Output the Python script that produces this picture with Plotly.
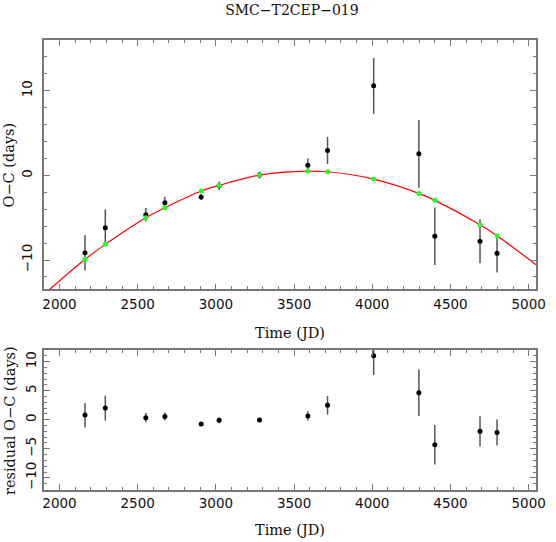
import plotly.graph_objects as go

# Observation times (JD) and measured O-C values (days)
time_jd = [2163, 2293, 2552, 2674, 2906, 3021, 3279, 3588, 3714, 4009, 4298, 4400, 4689, 4798]
oc_obs = [-9.14, -6.19, -4.65, -3.23, -2.56, -1.23, 0.04, 1.2, 2.95, 10.58, 2.55, -7.2, -7.79, -9.21]
oc_err = [2.1, 2.15, 0.8, 0.7, 0.35, 0.5, 0.4, 0.8, 1.6, 3.3, 4.0, 3.4, 2.6, 2.25]

# Model O-C at the observation times (green points)
oc_model = [-9.92, -8.15, -5.01, -3.83, -1.85, -1.18, 0.04, 0.51, 0.43, -0.44, -2.13, -2.95, -5.83, -7.13]

# Model curve samples (including the ends at the frame)
curve_t = [1901, 1937, 2163, 2293, 2552, 2674, 2906, 3021, 3279, 3588, 3714, 4009, 4298, 4400, 4689, 4798, 5047]
curve_oc = [-14.0, -13.46, -9.92, -8.15, -5.01, -3.83, -1.85, -1.18, 0.04, 0.51, 0.43, -0.44, -2.13, -2.95,
            -5.83, -7.13, -10.55]

# Residual O-C (days)
oc_resid = [0.8, 2.0, 0.35, 0.55, -0.75, -0.1, -0.05, 0.65, 2.5, 11.0, 4.65, -4.3, -2.0, -2.2]

tick_font = dict(family='DejaVu Sans', size=13.5, color='#111111')
label_font = dict(family='DejaVu Serif', size=14.5, color='#111111')
frame_color = '#777777'
err_color = '#555555'

fig = go.Figure()

# Top panel: fitted curve, observations, model points
fig.add_trace(go.Scatter(x=curve_t, y=curve_oc, mode='lines', xaxis='x', yaxis='y',
                         line=dict(color='#ff0000', width=1.2, shape='spline', smoothing=0.8),
                         hoverinfo='skip'))
fig.add_trace(go.Scatter(x=time_jd, y=oc_obs, mode='markers', xaxis='x', yaxis='y',
                         marker=dict(color='black', size=5),
                         error_y=dict(type='data', array=oc_err, color=err_color, thickness=1.5, width=0)))
fig.add_trace(go.Scatter(x=time_jd, y=oc_model, mode='markers', xaxis='x', yaxis='y',
                         marker=dict(color='#22ff22', size=5)))

# Bottom panel: residuals
fig.add_trace(go.Scatter(x=time_jd, y=oc_resid, mode='markers', xaxis='x2', yaxis='y2',
                         marker=dict(color='black', size=5),
                         error_y=dict(type='data', array=oc_err, color=err_color, thickness=1.5, width=0)))

# Shared axis styling: framed box with inward ticks on all sides
axis_style = dict(showline=True, linecolor=frame_color, linewidth=1.5, mirror='allticks',
                  ticks='inside', ticklen=6, tickwidth=1.2, tickcolor=frame_color,
                  showgrid=False, zeroline=False, tickfont=tick_font)

fig.update_layout(
    width=556, height=542,
    margin=dict(l=44.3, r=10.7, t=40, b=52),
    paper_bgcolor='white', plot_bgcolor='white',
    showlegend=False,
    title=dict(text='SMC\u2212T2CEP\u2212019', x=0.525, xanchor='center', y=0.981, yanchor='middle',
               font=dict(family='DejaVu Serif', size=14, color='#111111')),
    xaxis=dict(domain=[0, 1], anchor='y', range=[1901, 5047], dtick=500, tick0=0,
               minor=dict(dtick=100, ticklen=3.5, ticks='inside', tickcolor=frame_color),
               ticklabelstandoff=2, **axis_style),
    yaxis=dict(domain=[0.446, 1], anchor='x', range=[-13.46, 16], dtick=10, tick0=0, tickangle=-90,
               minor=dict(dtick=2, ticklen=3.5, ticks='inside', tickcolor=frame_color),
               ticklabelstandoff=5, **axis_style),
    xaxis2=dict(domain=[0, 1], anchor='y2', range=[1901, 5047], dtick=500, tick0=0,
                minor=dict(dtick=100, ticklen=3.5, ticks='inside', tickcolor=frame_color),
                ticklabelstandoff=0, **axis_style),
    yaxis2=dict(domain=[0, 0.311], anchor='x2', range=[-12.1, 12.0], dtick=5, tick0=0, tickangle=-90,
                minor=dict(dtick=1, ticklen=3.5, ticks='inside', tickcolor=frame_color),
                ticklabelstandoff=1, **axis_style),
)

# Axis titles placed as annotations
fig.add_annotation(text='Time (JD)', xref='paper', yref='paper', x=0.5, y=0.349,
                   showarrow=False, font=label_font, xanchor='center', yanchor='middle')
fig.add_annotation(text='Time (JD)', xref='paper', yref='paper', x=0.5, y=-0.089,
                   showarrow=False, font=label_font, xanchor='center', yanchor='middle')
fig.add_annotation(text='O\u2212C (days)', xref='paper', yref='paper', x=-0.0705, y=0.722,
                   showarrow=False, font=label_font, textangle=-90, xanchor='center', yanchor='middle')
fig.add_annotation(text='residual O\u2212C (days)', xref='paper', yref='paper', x=-0.0705, y=0.154,
                   showarrow=False, font=label_font, textangle=-90, xanchor='center', yanchor='middle')

# Page body has a default margin; remove it so the figure sits at the window origin
fig.write_html("out.html", config={'displayModeBar': False},
               post_script="document.body.style.margin='0';")
